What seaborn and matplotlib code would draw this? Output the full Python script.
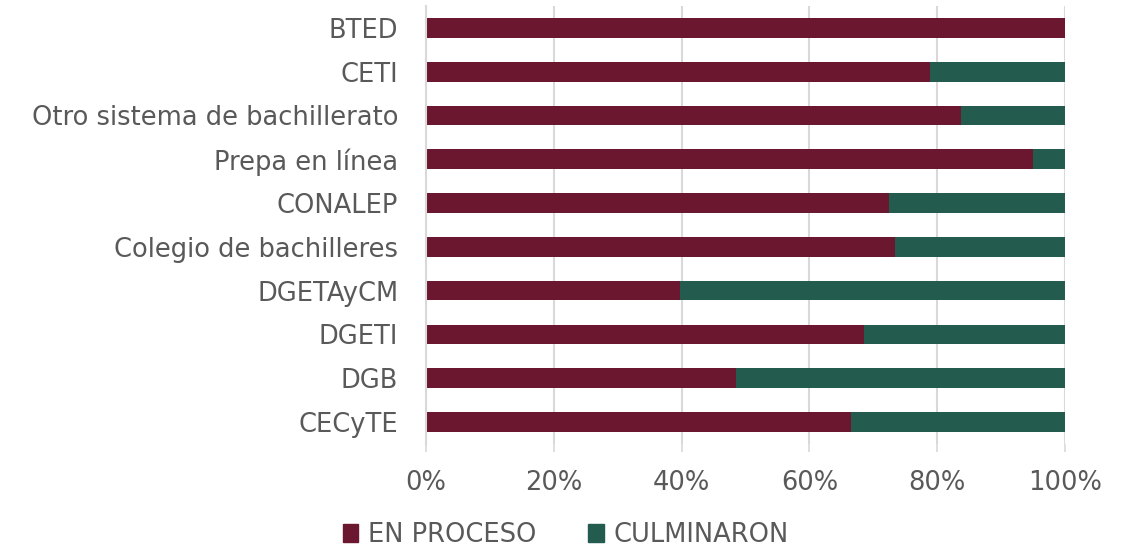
import numpy as np
import pandas as pd
import seaborn as sns
import matplotlib.pyplot as plt
from matplotlib.patches import Patch

# Datos (porcentaje)
categorias = ['BTED', 'CETI', 'Otro sistema de bachillerato', 'Prepa en línea',
              'CONALEP', 'Colegio de bachilleres', 'DGETAyCM', 'DGETI', 'DGB', 'CECyTE']
en_proceso = [100.0, 78.9, 83.7, 95.0, 72.4, 73.4, 39.7, 68.5, 48.5, 66.5]
culminaron = [0.0, 21.1, 16.3, 5.0, 27.6, 26.6, 60.3, 31.5, 51.5, 33.5]
ticks_x = [0, 20, 40, 60, 80, 100]

color_proc = '#6B1730'
color_culm = '#235B4E'
gris = '#595959'

sns.set_theme(style='white')
plt.rcParams['font.family'] = ['DejaVu Sans']

df = pd.DataFrame({'cat': categorias, 'proc': en_proceso, 'culm': culminaron})
df['total'] = df['proc'] + df['culm']

fig = plt.figure(figsize=(11.25, 5.46), dpi=100)
ax = fig.add_axes([0.3787, 0.187, 0.568, 0.802])

# barras apiladas: total (verde) y encima en proceso (guinda)
sns.barplot(data=df, x='total', y='cat', orient='h', color=color_culm,
            saturation=1, width=0.45, linewidth=0, ax=ax)
sns.barplot(data=df, x='proc', y='cat', orient='h', color=color_proc,
            saturation=1, width=0.45, linewidth=0, ax=ax)

ax.set_xlim(0, 100)
ax.set_xticks(ticks_x)
ax.set_xticklabels([f'{t}%' for t in ticks_x])
ax.set_xlabel('')
ax.set_ylabel('')
ax.xaxis.grid(True, color='#d9d9d9', linewidth=1.5)
ax.set_axisbelow(True)
for s in ['top', 'right', 'bottom']:
    ax.spines[s].set_visible(False)
ax.spines['left'].set_color('#d9d9d9')
ax.spines['left'].set_linewidth(1.5)
ax.tick_params(axis='x', bottom=True, length=6, width=1.2, color='#d9d9d9',
               labelsize=18.5, labelcolor=gris, pad=13)
ax.tick_params(axis='y', left=False, labelsize=18.5, labelcolor=gris, pad=14)

handles = [Patch(color=color_proc, label='EN PROCESO'),
           Patch(color=color_culm, label='CULMINARON')]
fig.legend(handles=handles, loc='center', bbox_to_anchor=(0.503, 0.02), ncol=2,
           frameon=False, fontsize=18.5, labelcolor=gris, handlelength=0.6,
           handleheight=0.7, handletextpad=0.4, columnspacing=2.0)

fig.savefig('out.png', dpi=100)
